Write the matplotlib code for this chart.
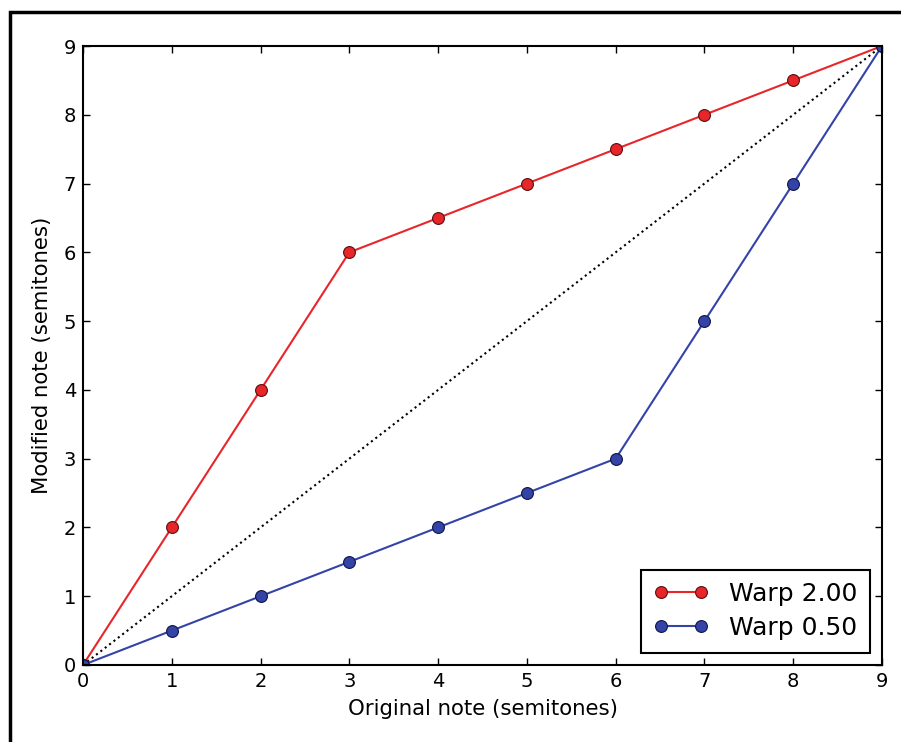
import matplotlib
matplotlib.use("Agg")
import matplotlib.pyplot as plt
from matplotlib.patches import Rectangle

original = [0, 1, 2, 3, 4, 5, 6, 7, 8, 9]
warp_200 = [0, 2, 4, 6, 6.5, 7, 7.5, 8, 8.5, 9]
warp_050 = [0, 0.5, 1, 1.5, 2, 2.5, 3, 5, 7, 9]
ticks = list(range(10))

W, H = 901, 742
fig = plt.figure(figsize=(W / 100, H / 100), dpi=100)
ax = fig.add_axes([83 / W, 1 - 665 / H, (882 - 83) / W, (665 - 46) / H])

ax.plot(original, original, ':', color='black', lw=1.5)
ax.plot(original, warp_200, '-o', color='#e8262a', lw=1.5, ms=8.5,
        mec='#551010', mew=0.8, label='Warp 2.00')
ax.plot(original, warp_050, '-o', color='#3343a8', lw=1.5, ms=8.5,
        mec='#101540', mew=0.8, label='Warp 0.50')

ax.set_xlim(0, 9)
ax.set_ylim(0, 9)
ax.set_xticks(ticks)
ax.set_yticks(ticks)
ax.tick_params(direction='in', top=True, right=True, length=5, width=1,
               labelsize=14, pad=5)
for s in ax.spines.values():
    s.set_linewidth(1.5)
ax.set_xlabel('Original note (semitones)', fontsize=15.3, labelpad=6)
ax.set_ylabel('Modified note (semitones)', fontsize=15.3, labelpad=8)

leg = ax.legend(loc='lower right', numpoints=2, fontsize=18, fancybox=False,
                framealpha=1, edgecolor='black', borderaxespad=0.5,
                handlelength=2.2, borderpad=0.5, labelspacing=0.4)
leg.get_frame().set_linewidth(1.5)

fig.patches.append(Rectangle((10 / W, -0.1), 1.2, 1 - 12 / H + 0.1,
                             transform=fig.transFigure, fill=False,
                             edgecolor='black', lw=2.5))

fig.savefig('out.png', dpi=100)
